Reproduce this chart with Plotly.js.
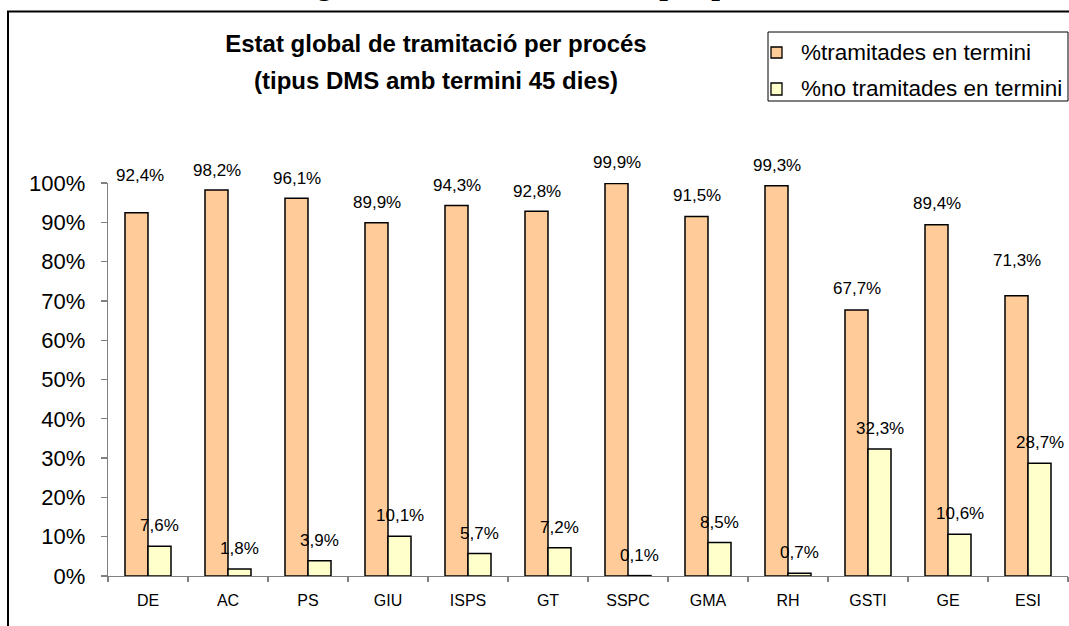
<!DOCTYPE html>
<html>
<head>
<meta charset="utf-8">
<script src="https://cdn.plot.ly/plotly-3.0.1.min.js"></script>
<style>html,body{margin:0;padding:0;background:#fff;}#chart{width:1069px;height:626px;}</style>
</head>
<body>
<div id="chart"></div>
<script>
// ---- data ----
const categories = ['DE', 'AC', 'PS', 'GIU', 'ISPS', 'GT', 'SSPC', 'GMA', 'RH', 'GSTI', 'GE', 'ESI'];
const tramitades = [92.4, 98.2, 96.1, 89.9, 94.3, 92.8, 99.9, 91.5, 99.3, 67.7, 89.4, 71.3];
const noTramitades = [7.6, 1.8, 3.9, 10.1, 5.7, 7.2, 0.1, 8.5, 0.7, 32.3, 10.6, 28.7];
const seriesNames = ['%tramitades en termini', '%no tramitades en termini'];
const chartTitle = 'Estat global de tramitació per procés';
const chartSubtitle = '(tipus DMS amb termini 45 dies)';
const pageHeading = 'Estat global de tramitació 2009 per procés';

// ---- styles ----
const colors = ['#FFCC99', '#FFFFCC'];
const SANS = 'Liberation Sans, Arial, sans-serif';
const SERIF = 'Liberation Serif, Times New Roman, serif';
// label lift above bar tops (pixels), as placed in the original
const tramLabelLift = [37, 20, 20, 20, 20, 20, 21, 21, 20, 21, 21, 35];
const tramLabelNudge = [3, 0, 0, 0, 0, 0, 0, 0, 0, 0, 0, 0];

const W = 1069, H = 626;
const M = {l: 108, r: 1, t: 183, b: 50};
const PW = W - M.l - M.r, PH = H - M.t - M.b;
const px = x => (x - M.l) / PW;
const py = y => (H - M.b - y) / PH;
const fmt = v => v.toFixed(1).replace('.', ',') + '%';

const traces = [
  {type: 'bar', name: seriesNames[0], x: categories, y: tramitades,
   marker: {color: colors[0], line: {color: '#000', width: 1.5}}, hoverinfo: 'x+y'},
  {type: 'bar', name: seriesNames[1], x: categories, y: noTramitades,
   marker: {color: colors[1], line: {color: '#000', width: 1.5}}, hoverinfo: 'x+y'}
];

const annotations = [];
categories.forEach((c, i) => {
  annotations.push({x: c, y: tramitades[i], xref: 'x', yref: 'y', text: fmt(tramitades[i]),
    showarrow: false, xanchor: 'center', yanchor: 'middle',
    xshift: -11.5 + tramLabelNudge[i], yshift: tramLabelLift[i],
    font: {family: SANS, size: 17, color: '#000'}});
  annotations.push({x: c, y: noTramitades[i], xref: 'x', yref: 'y', text: fmt(noTramitades[i]),
    showarrow: false, xanchor: 'center', yanchor: 'middle',
    xshift: 11.5, yshift: 20.5,
    font: {family: SANS, size: 17, color: '#000'}});
});
// subtitle line
annotations.push({x: px(436), y: py(80), xref: 'paper', yref: 'paper', text: '<b>' + chartSubtitle + '</b>',
  showarrow: false, xanchor: 'center', yanchor: 'middle', font: {family: SANS, size: 24, color: '#000'}});
// manual legend texts
annotations.push({x: px(799), y: py(52), xref: 'paper', yref: 'paper', text: seriesNames[0],
  showarrow: false, xanchor: 'left', yanchor: 'middle', font: {family: SANS, size: 22.5, color: '#000'}});
annotations.push({x: px(799), y: py(89), xref: 'paper', yref: 'paper', text: seriesNames[1],
  showarrow: false, xanchor: 'left', yanchor: 'middle', font: {family: SANS, size: 22.5, color: '#000'}});
// page heading, mostly cut off by the top edge
annotations.push({x: px(239), y: py(2.5), xref: 'paper', yref: 'paper', text: '<b>' + pageHeading + '</b>',
  showarrow: false, xanchor: 'left', yanchor: 'bottom', borderpad: 0,
  font: {family: SERIF, size: 31, color: '#000'}});

const shapes = [
  // outer chart frame
  {type: 'rect', xref: 'paper', yref: 'paper', x0: px(8), x1: px(1120), y0: py(700), y1: py(11.5),
   line: {color: '#000', width: 2}, fillcolor: 'rgba(0,0,0,0)', layer: 'above'},
  // legend box
  {type: 'rect', xref: 'paper', yref: 'paper', x0: px(768), x1: px(1068), y0: py(101), y1: py(32),
   line: {color: '#000', width: 1}, fillcolor: '#fff', layer: 'below'},
  {type: 'rect', xref: 'paper', yref: 'paper', x0: px(771), x1: px(782), y0: py(58), y1: py(47),
   line: {color: '#000', width: 1.3}, fillcolor: colors[0], layer: 'above'},
  {type: 'rect', xref: 'paper', yref: 'paper', x0: px(771), x1: px(782), y0: py(95), y1: py(83),
   line: {color: '#000', width: 1.3}, fillcolor: colors[1], layer: 'above'}
];

const layout = {
  width: W, height: H, autosize: false,
  margin: {l: M.l, r: M.r, t: M.t, b: M.b, pad: 0},
  paper_bgcolor: '#fff', plot_bgcolor: '#fff',
  showlegend: false,
  barmode: 'group', bargap: 0.425, bargroupgap: 0,
  title: {text: chartTitle, xref: 'container', yref: 'container', x: 436 / W, y: 1 - 44 / H,
    xanchor: 'center', yanchor: 'middle', font: {family: SANS, size: 24, color: '#000', weight: 'bold'}},
  xaxis: {type: 'category', showline: true, linecolor: '#808080', linewidth: 1.3,
    ticks: 'outside', tickson: 'boundaries', ticklen: 5, tickcolor: '#808080', tickwidth: 1.3,
    ticklabelstandoff: 9,
    showgrid: false, zeroline: false, tickfont: {family: SANS, size: 16, color: '#000'}, fixedrange: true},
  yaxis: {range: [0, 100], tick0: 0, dtick: 10, ticksuffix: '%', showline: true, linecolor: '#808080',
    linewidth: 1.3, ticks: 'outside', ticklen: 6, tickcolor: '#808080', tickwidth: 1.3,
    showgrid: false, zeroline: false, ticklabelstandoff: 11,
    tickfont: {family: SANS, size: 22, color: '#000'}, fixedrange: true},
  annotations: annotations,
  shapes: shapes
};

Plotly.newPlot('chart', traces, layout, {displayModeBar: false, staticPlot: true});
</script>
</body>
</html>
